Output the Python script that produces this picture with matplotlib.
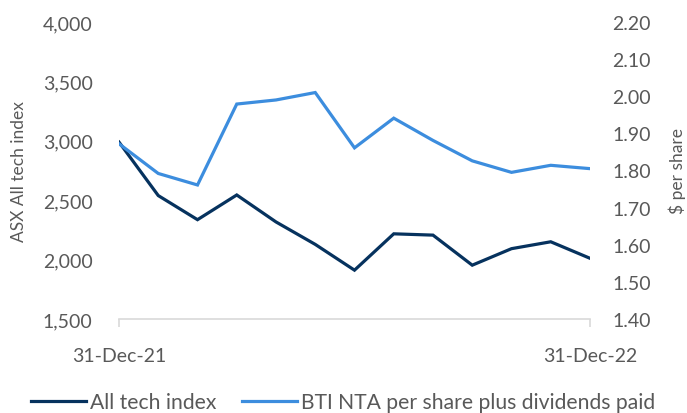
import numpy as np
import matplotlib.pyplot as plt
from matplotlib.ticker import FuncFormatter

plt.rcParams['font.family'] = ['Lato', 'DejaVu Sans']

# month-end points, 31-Dec-21 .. 31-Dec-22
months = np.arange(13)
tick_labels = ['31-Dec-21', '31-Dec-22']
tech_index = [2989, 2539, 2336, 2544, 2317, 2128, 1911, 2217, 2206, 1953, 2092, 2150, 2011]
bti_nta = [1.872, 1.792, 1.761, 1.979, 1.990, 2.010, 1.861, 1.941, 1.881, 1.826, 1.795, 1.814, 1.805]

dark = '#06325E'
light = '#3C8DDE'
grey = '#595959'

fig = plt.figure(figsize=(6.87, 4.14), dpi=100)
ax = fig.add_axes([119/687, 1-320/414, (590-119)/687, (320-23)/414])
ax2 = ax.twinx()

l1, = ax.plot(months, tech_index, color=dark, lw=2.3, solid_joinstyle='miter')
l2, = ax2.plot(months, bti_nta, color=light, lw=2.3, solid_joinstyle='miter')

ax.set_xlim(0, 12)
ax.set_ylim(1500, 4000)
ax.set_yticks(np.arange(1500, 4001, 500))
ax.yaxis.set_major_formatter(FuncFormatter(lambda v, p: f'{v:,.0f}'))
ax2.set_ylim(1.40, 2.20)
ax2.set_yticks(np.arange(1.40, 2.201, 0.10))
ax2.yaxis.set_major_formatter(FuncFormatter(lambda v, p: f'{v:.2f}'))

ax.set_xticks([0, 12])
ax.set_xticklabels(tick_labels)

for a in (ax, ax2):
    for s in ['top', 'left', 'right']:
        a.spines[s].set_visible(False)
    a.spines['bottom'].set_color('#D9D9D9')
    a.spines['bottom'].set_linewidth(1.2)
ax2.spines['bottom'].set_visible(False)

ax.tick_params(axis='x', colors='#D9D9D9', length=6, width=1.2, pad=14, labelcolor=grey, labelsize=14)
ax.tick_params(axis='y', length=0, pad=19, labelcolor=grey, labelsize=14)
ax2.tick_params(axis='y', length=0, pad=16, labelcolor=grey, labelsize=14)

ax.set_ylabel('ASX All tech index', color=grey, fontsize=12.5, va='center')
ax.yaxis.set_label_coords(-(119-19)/471, 0.5)
ax2.set_ylabel('$ per share', color=grey, fontsize=12.5, va='center')
ax2.yaxis.set_label_coords(1+(677-590)/471, 0.5)

fig.legend([l1, l2], ['All tech index', 'BTI NTA per share plus dividends paid'],
           loc='center left', bbox_to_anchor=(31/687, 1-403/414), ncol=2, frameon=False,
           fontsize=15.2, handlelength=2.6, handletextpad=0.2, columnspacing=1.2,
           labelcolor=grey, borderaxespad=0, borderpad=0)

fig.savefig('out.png', dpi=100)
